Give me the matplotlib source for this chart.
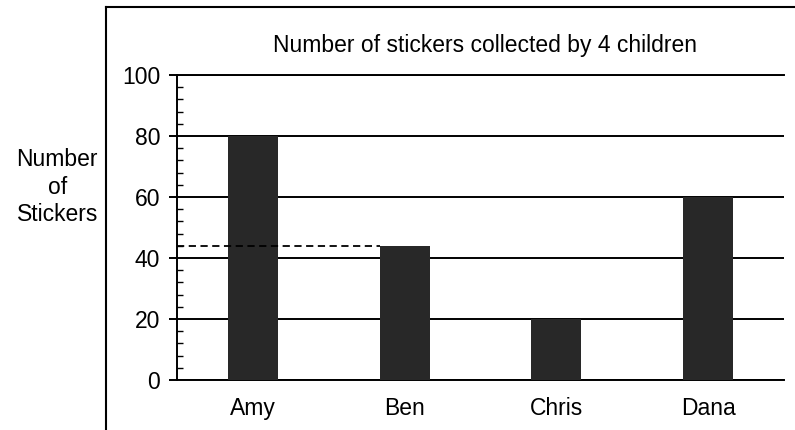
import matplotlib
matplotlib.use("Agg")
import matplotlib.pyplot as plt
from matplotlib.lines import Line2D
from matplotlib.ticker import MultipleLocator

plt.rcParams['font.family'] = ['Liberation Sans', 'DejaVu Sans']

# data
children = ['Amy', 'Ben', 'Chris', 'Dana']
stickers = [80, 44, 20, 60]
y_ticks = [0, 20, 40, 60, 80, 100]
ben_guide = 44

fig = plt.figure(figsize=(7.95, 4.30), dpi=100)
ax = fig.add_axes([0.2226, 0.1163, 0.7635, 0.7093])

bar_w = 0.33
x = range(len(children))
ax.bar(x, stickers, width=bar_w, color='#282828', zorder=3)

# dashed reading line for Ben
ax.hlines(ben_guide, -0.5, 1 - bar_w / 2, colors='black',
          linestyles=(0, (4, 2.5)), linewidth=1.3, zorder=4)

ax.set_xlim(-0.5, 3.5)
ax.set_ylim(0, 100)
ax.set_xticks(list(x))
ax.set_xticklabels(children, fontsize=16.5)
ax.set_yticks(y_ticks)
ax.set_yticklabels([str(v) for v in y_ticks], fontsize=16.5)
ax.yaxis.set_minor_locator(MultipleLocator(4))

ax.tick_params(axis='x', length=0, pad=12)
ax.tick_params(axis='y', which='major', length=6, width=1.4, direction='out', pad=6)
ax.tick_params(axis='y', which='minor', length=4, width=1.0, direction='in')

ax.grid(axis='y', color='black', linewidth=1.4, zorder=1)
for side in ['right']:
    ax.spines[side].set_visible(False)
for side in ['left', 'top', 'bottom']:
    ax.spines[side].set_linewidth(1.4)

fig.text(0.61, 0.895, 'Number of stickers collected by 4 children',
         ha='center', va='center', fontsize=16.5)
fig.text(0.072, 0.565, 'Number\nof\nStickers', ha='center', va='center',
         fontsize=16.5, linespacing=1.25)

# frame of the worksheet box
fig.add_artist(Line2D([0.1333, 0.1333], [0.0, 0.9837], color='black', linewidth=1.5))
fig.add_artist(Line2D([0.1333, 1.0], [0.9837, 0.9837], color='black', linewidth=1.5))

fig.savefig('out.png', dpi=100)
